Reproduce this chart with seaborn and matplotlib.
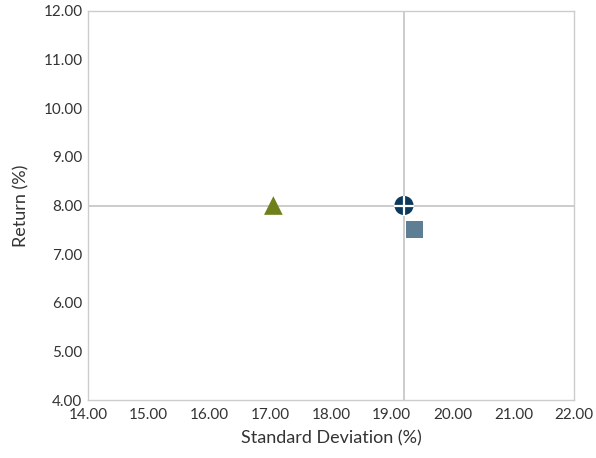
import matplotlib
matplotlib.use('Agg')
import matplotlib.pyplot as plt
import seaborn as sns
import pandas as pd

# Portfolio risk / return points
names = ['Portfolio A', 'Portfolio B', 'Benchmark']
std_dev = [17.05, 19.2, 19.38]
returns = [8.0, 8.0, 7.5]
markers = ['^', 'o', 's']
colors = ['#6e7f1c', '#0c3a5f', '#5d7e93']

# Crosshair reference position
ref_x = 19.2
ref_y = 8.0

x_ticks = [14, 15, 16, 17, 18, 19, 20, 21, 22]
y_ticks = [4, 5, 6, 7, 8, 9, 10, 11, 12]

df = pd.DataFrame({'name': names, 'sd': std_dev, 'ret': returns})

sns.set_style('white')
plt.rcParams['font.family'] = ['Lato', 'DejaVu Sans']

fig = plt.figure(figsize=(5.96, 4.58), dpi=100)
ax = fig.add_axes([0.1477, 0.1266, 0.8156, 0.8494])

ax.axvline(ref_x, color='#c8c8c8', lw=1.3, zorder=1)
ax.axhline(ref_y, color='#c8c8c8', lw=1.3, zorder=1)

sizes = [180, 190, 150]
for i, row in df.iterrows():
    sns.scatterplot(x=[row['sd']], y=[row['ret']], marker=markers[i], color=colors[i],
                    s=sizes[i], edgecolor='none', ax=ax, zorder=3)
# white cross on the circle marker
sns.scatterplot(x=[std_dev[1]], y=[returns[1]], marker='+', color='white', s=190,
                linewidth=1.6, ax=ax, zorder=4)

ax.set_xlim(14, 22)
ax.set_ylim(4, 12)
ax.set_xticks(x_ticks)
ax.set_yticks(y_ticks)
ax.set_xticklabels([f'{v:.2f}' for v in x_ticks])
ax.set_yticklabels([f'{v:.2f}' for v in y_ticks])
ax.tick_params(axis='both', length=0, labelsize=11, colors='#333333')
ax.tick_params(axis='x', pad=6)
ax.tick_params(axis='y', pad=4)
ax.set_xlabel('Standard Deviation (%)', fontsize=13, color='#333333', labelpad=6)
ax.set_ylabel('Return (%)', fontsize=13, color='#333333', labelpad=10)

for sp in ax.spines.values():
    sp.set_color('#cccccc')
    sp.set_linewidth(1)

plt.savefig('out.png', dpi=100)
